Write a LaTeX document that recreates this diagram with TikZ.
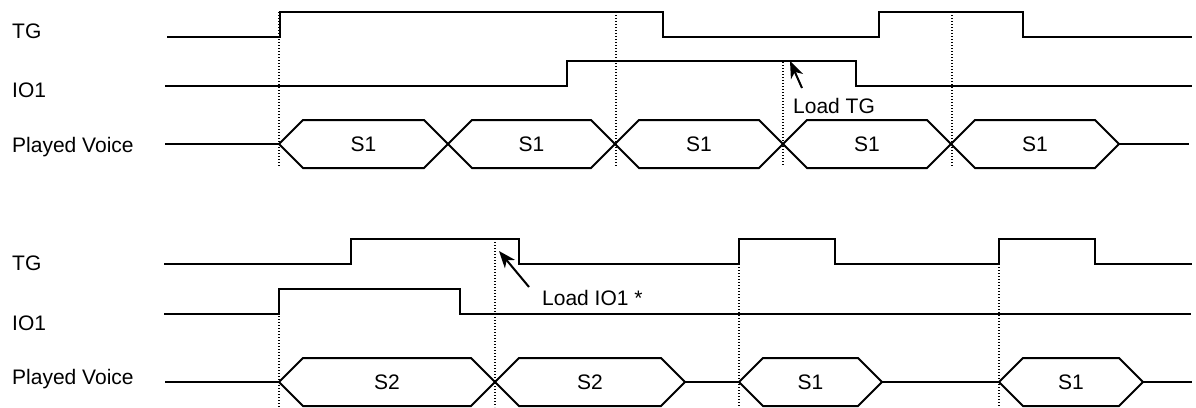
\documentclass[tikz,border=0pt]{standalone}
\usepackage{fontspec}
\usetikzlibrary{arrows.meta}
\newfontfamily\labfont{Liberation Sans}
\newcommand\labsize{\labfont\fontsize{21}{24}\selectfont}

% one bus value: left tip, right tip, centre line, text, node name
\newcommand\busval[5]{%
  \draw[wave] (#1,#3) -- (#1+24,#3-24) -- (#2-24,#3-24) -- (#2,#3)
              -- (#2-24,#3+24) -- (#1+24,#3+24) -- cycle;
  \node[valtext] (#5) at ({(#1+#2)/2},#3) {#4};
}

\tikzset{
  wave/.style={line width=2pt, line join=miter, line cap=butt},
  guide/.style={line width=1.3pt, dash pattern=on 1.4pt off 1.6pt},
  siglabel/.style={anchor=base west, inner sep=0pt, font=\labsize},
  valtext/.style={inner sep=0pt, font=\labsize},
  notetext/.style={anchor=base west, inner sep=0pt, font=\labsize},
  pointer/.style={line width=2pt, -{Stealth[length=17pt,width=13pt,inset=5pt]}}
}

\begin{document}
\begin{tikzpicture}[x=1pt,y=-1pt]
\useasboundingbox (0,0) rectangle (1196,407);

% ---------------- upper diagram ----------------
\node[siglabel] (tgA)  at (12,38)  {TG};
\node[siglabel] (ioA)  at (12,97)  {IO1};
\node[siglabel] (pvA)  at (12,152) {Played Voice};

% reference lines
\draw[guide] (279,12) -- (279,166);
\draw[guide] (616,12) -- (616,166);
\draw[guide] (783,62) -- (783,166);
\draw[guide] (952,12) -- (952,166);

% TG
\draw[wave] (167,37) -- (280,37) -- (280,12) -- (663,12) -- (663,37)
            -- (879,37) -- (879,12) -- (1023,12) -- (1023,37) -- (1192,37);
% IO1
\draw[wave] (165,86) -- (567,86) -- (567,61) -- (856,61) -- (856,86) -- (1192,86);
% played voice
\draw[wave] (165,144) -- (279,144);
\busval{279}{448}{144}{S1}{sA1}
\busval{448}{615}{144}{S1}{sA2}
\busval{615}{783}{144}{S1}{sA3}
\busval{783}{951}{144}{S1}{sA4}
\busval{951}{1119}{144}{S1}{sA5}
\draw[wave] (1119,144) -- (1189,144);

% note
\node[notetext] (loadtg) at (793,113) {Load TG};
\coordinate (loadtgtail) at (802,88);
\coordinate (loadtgtip)  at (790,61);
\draw[pointer] (loadtgtail) -- (loadtgtip);

% ---------------- lower diagram ----------------
\node[siglabel] (tgB)  at (12,270) {TG};
\node[siglabel] (ioB)  at (12,330) {IO1};
\node[siglabel] (pvB)  at (12,384) {Played Voice};

% reference lines
\draw[guide] (279,289) -- (279,407);
\draw[guide] (495,239) -- (495,407);
\draw[guide] (739,264) -- (739,407);
\draw[guide] (999,264) -- (999,407);

% TG
\draw[wave] (164,264) -- (351,264) -- (351,239) -- (519,239) -- (519,264)
            -- (739,264) -- (739,239) -- (835,239) -- (835,264)
            -- (999,264) -- (999,239) -- (1095,239) -- (1095,264) -- (1192,264);
% IO1
\draw[wave] (164,314) -- (279,314) -- (279,289) -- (460,289) -- (460,314) -- (1191,314);
% played voice
\draw[wave] (165,382) -- (279,382);
\busval{279}{495}{382}{S2}{sB1}
\busval{495}{685}{382}{S2}{sB2}
\draw[wave] (685,382) -- (739,382);
\busval{739}{882}{382}{S1}{sB3}
\draw[wave] (882,382) -- (999,382);
\busval{999}{1143}{382}{S1}{sB4}
\draw[wave] (1143,382) -- (1192,382);

% note
\node[notetext] (loadio) at (542,305) {Load IO1 *};
\coordinate (loadiotail) at (529,287);
\coordinate (loadiotip)  at (499,251);
\draw[pointer] (loadiotail) -- (loadiotip);
\end{tikzpicture}
\end{document}
